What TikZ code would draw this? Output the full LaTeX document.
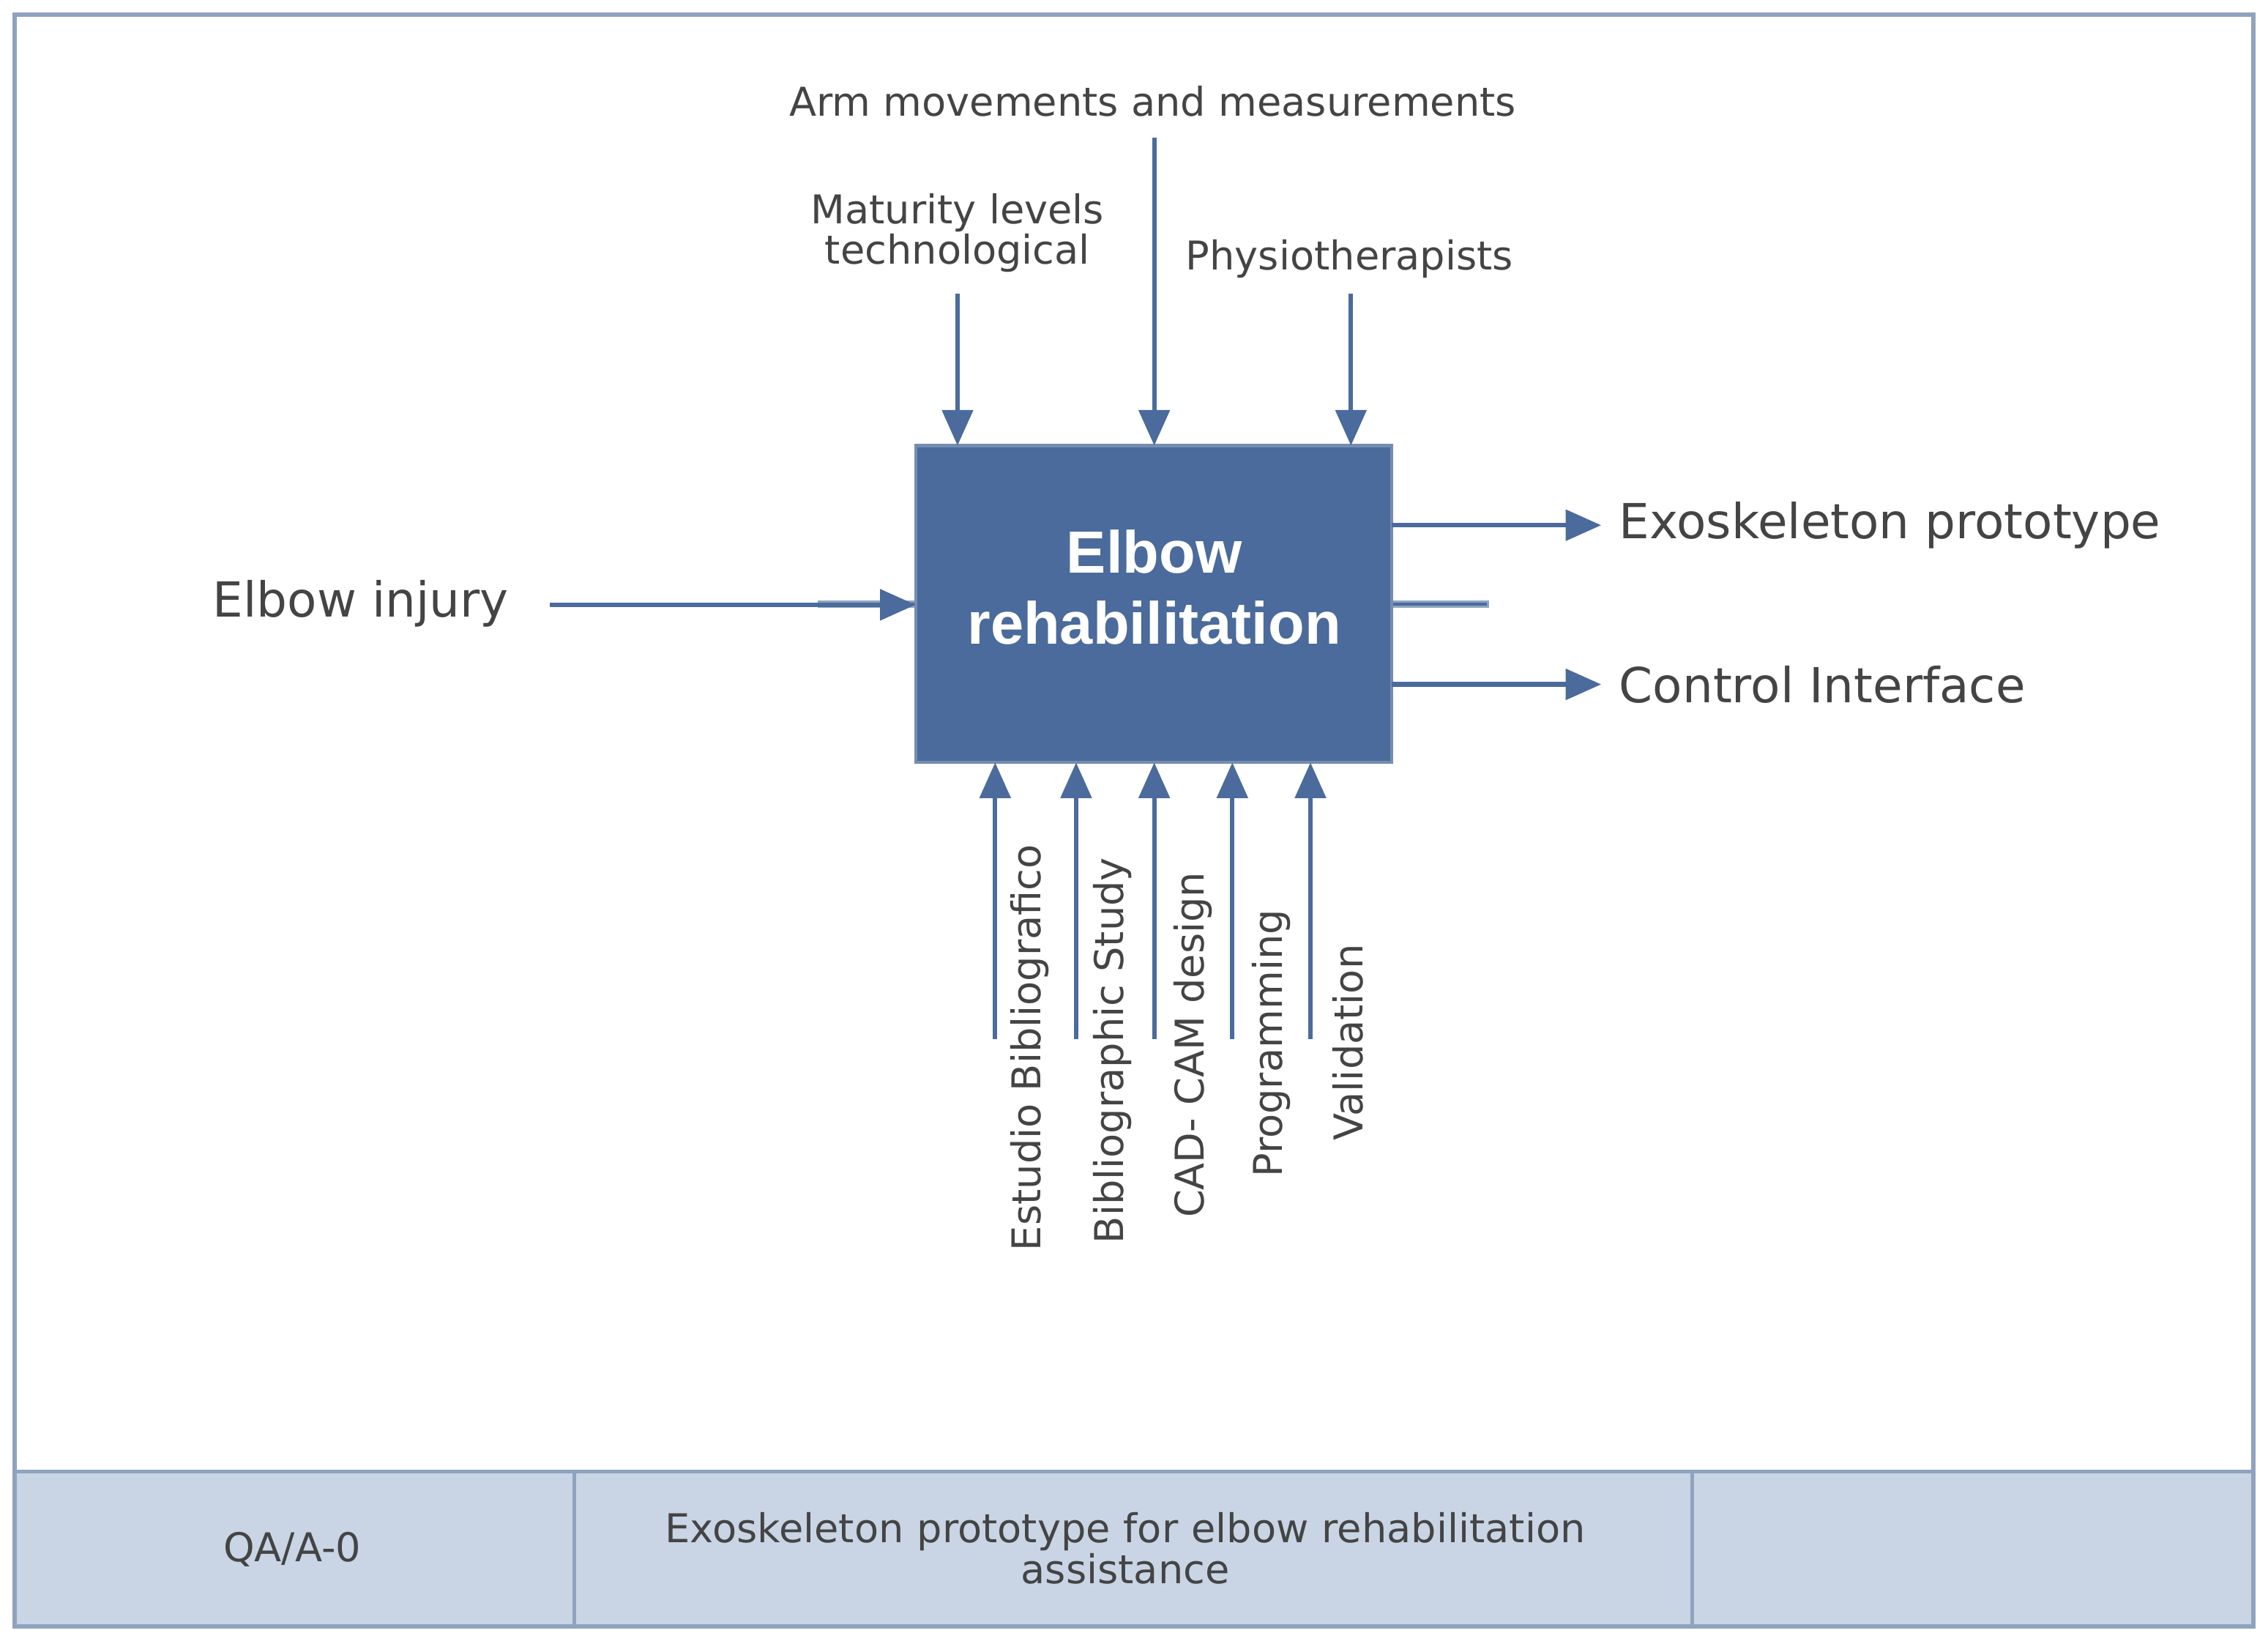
\documentclass[tikz,border=0pt]{standalone}
\usepackage{fontspec}
\setmainfont{DejaVu Sans}
\newfontfamily\boldsans{Liberation Sans}
\usetikzlibrary{arrows.meta}
\definecolor{boxc}{HTML}{4A6B9B}
\definecolor{barc}{HTML}{C9D5E4}
\definecolor{edgec}{HTML}{8FA3BF}
\definecolor{txt}{HTML}{444444}
\begin{document}
\begin{tikzpicture}[x=0.01cm,y=-0.01cm,
  arr/.style={draw=boxc,line width=0.9pt,-{Triangle[length=7pt,width=6pt]}},
  big/.style={text=txt,font=\fontsize{9.5pt}{11pt}\selectfont},
  small/.style={text=txt,font=\fontsize{7.8pt}{10pt}\selectfont,align=center},
  vlab/.style={text=txt,font=\fontsize{7.8pt}{10pt}\selectfont,rotate=90,anchor=east,inner sep=0pt}]
\useasboundingbox (0,0) rectangle (1568,1136);
\fill[white] (0,0) rectangle (1568,1136);
\draw[edgec,line width=0.8pt] (10,10) rectangle (1558,1124);
\draw[edgec,fill=barc,line width=0.8pt] (10,1017) rectangle (1558,1124);
\draw[edgec,line width=0.8pt] (397,1017) -- (397,1124) (1170,1017) -- (1170,1124);
\node[small] (qa) at (202,1071) {QA/A-0};
\node[small,text width=7cm] (title) at (778,1070) {Exoskeleton prototype for elbow rehabilitation\\[-2pt] assistance};
\node[draw=edgec,fill=boxc,minimum width=329\pgflinewidth,inner sep=0pt] (box) at (797.5,417.5) {};
\path (633,308) coordinate (bnw) (962,527) coordinate (bse);
\fill[boxc] (bnw) rectangle (bse);
\draw[edgec!60!boxc,line width=0.6pt] (bnw) rectangle (bse);
\node[text=white,font=\boldsans\bfseries\fontsize{11.7pt}{14pt}\selectfont,align=center] (main) at (798,406) {Elbow\\rehabilitation};
% top
\node[small] (mat) at (662,161) {Maturity levels\\[-2pt] technological};
\node[small] (arm) at (797,70) {Arm movements and measurements};
\node[small] (phy) at (933,179) {Physiotherapists};
\coordinate (t1) at (662,203); \coordinate (t2) at (798,95); \coordinate (t3) at (934,203);
\draw[arr] (t1) -- (662,308);
\draw[arr] (t2) -- (798,308);
\draw[arr] (t3) -- (934,308);
% left/right
\node[big,anchor=east] (inj) at (364,417) {Elbow injury};
\draw[arr] (380,418) -- (633,418);
\node[big,anchor=west] (exo) at (1107,363) {Exoskeleton prototype};
\node[big,anchor=west] (ci) at (1107,473) {Control Interface};
\draw[arr] (962,363) -- (exo.west);
\draw[arr] (962,473) -- (ci.west);
% bottom
\foreach \x/\lx/\ly/\t in {688/712/583/Estudio Bibliografico,744/769/592/Bibliographic Study,798/825/602/CAD- CAM design,852/879/628/Programming,906/932/652/Validation}{
  \node[vlab] at (\lx,\ly) {\t};
  \draw[arr] (\x,718) -- (\x,527);
}
\end{tikzpicture}
\end{document}
